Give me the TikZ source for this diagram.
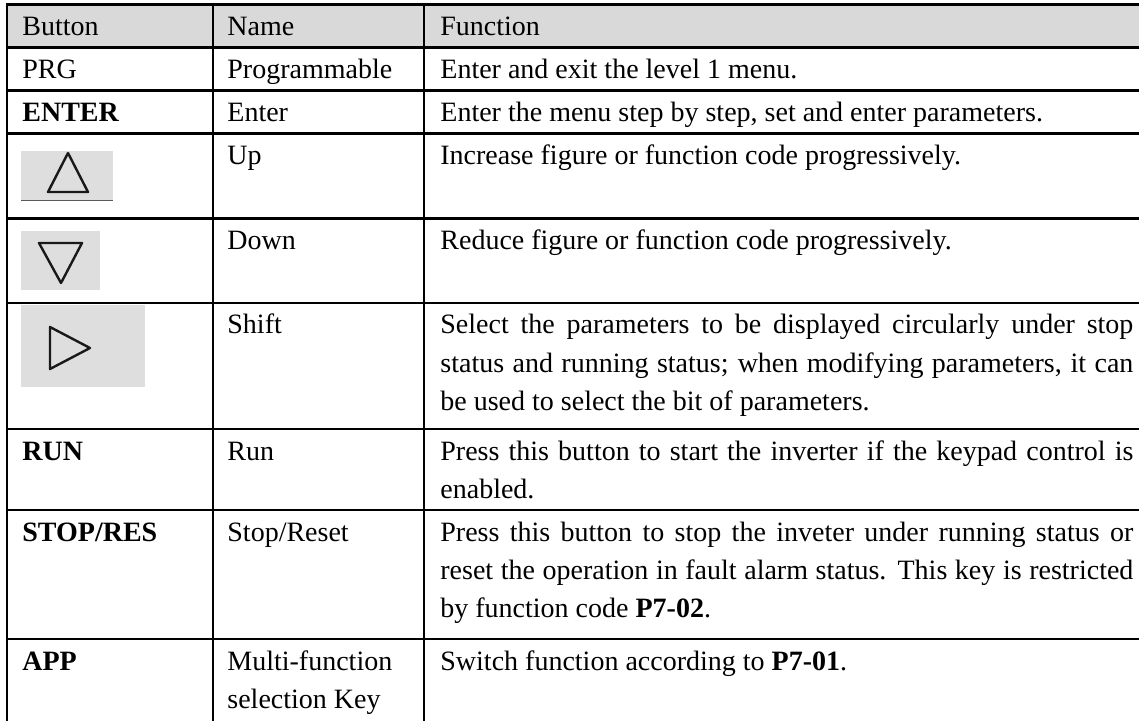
\documentclass[tikz,border=0pt]{standalone}
\usepackage{fontspec}
\setmainfont{Liberation Serif}
\definecolor{hdrgray}{RGB}{217,217,217}
\definecolor{btngray}{RGB}{222,222,222}
\definecolor{ulgray}{RGB}{90,90,90}
\definecolor{tricol}{RGB}{25,25,25}
\newcommand{\jline}[1]{\makebox[346.5pt][s]{#1}}
\begin{document}
\begin{tikzpicture}[x=0.5pt,y=-0.5pt,
  txt/.style={anchor=base west, inner sep=0pt, font=\fontsize{14}{19}\selectfont},
  rule/.style={line width=1.3pt, black},
  tri/.style={draw=tricol, line width=1.2pt, line join=round}]
\useasboundingbox (0,0) rectangle (1139,721);
\clip (0,0) rectangle (1139,721);
% header fill
\fill[hdrgray] (7,4.5) rectangle (1150,47.5);
% button icons
\fill[btngray] (21,151) rectangle (113,200);
\draw[ulgray, line width=0.8pt] (21,200.5) -- (113,200.5);
\draw[tri] (68,153) -- (88,192) -- (48,192) -- cycle;
\fill[btngray] (21,231) rectangle (100,290);
\draw[tri] (39,243) -- (82,243) -- (61,283) -- cycle;
\fill[btngray] (21,305) rectangle (145,387);
\draw[tri] (50,327) -- (90,348) -- (50,369) -- cycle;
% grid
\foreach \yy in {4.5,47.5,90.5,133.5,218.5,303,429,510,639}
  \draw[rule] (6.4,\yy) -- (1150,\yy);
\foreach \xx in {7,213,424}
  \draw[rule] (\xx,4) -- (\xx,730);
% header
\node[txt] (h1) at (22,35.5) {Button};
\node[txt] (h2) at (227,35.5) {Name};
\node[txt] (h3) at (440,35.5) {Function};
% PRG
\node[txt] (b1) at (22,78.5) {PRG};
\node[txt] (n1) at (227,78.5) {Programmable};
\node[txt] (f1) at (440,78.5) {Enter and exit the level 1 menu.};
% ENTER
\node[txt] (b2) at (22,121.5) {\textbf{ENTER}};
\node[txt] (n2) at (227,121.5) {Enter};
\node[txt] (f2) at (440,121.5) {Enter the menu step by step, set and enter parameters.};
% Up
\node[txt] (n3) at (227,164.5) {Up};
\node[txt] (f3) at (440,164.5) {Increase figure or function code progressively.};
% Down
\node[txt] (n4) at (227,249.5) {Down};
\node[txt] (f4) at (440,249.5) {Reduce figure or function code progressively.};
% Shift
\node[txt] (n5) at (227,334) {Shift};
\node[txt] (f5a) at (440,334) {\jline{Select the parameters to be displayed circularly under stop}};
\node[txt] (f5b) at (440,372) {\jline{status and running status; when modifying parameters, it can}};
\node[txt] (f5c) at (440,410) {be used to select the bit of parameters.};
% RUN
\node[txt] (b6) at (22,460) {\textbf{RUN}};
\node[txt] (n6) at (227,460) {Run};
\node[txt] (f6a) at (440,460) {\jline{Press this button to start the inverter if the keypad control is}};
\node[txt] (f6b) at (440,498) {enabled.};
% STOP
\node[txt] (b7) at (22,541) {\textbf{STOP/RES}};
\node[txt] (n7) at (227,541) {Stop/Reset};
\node[txt] (f7a) at (440,541) {\jline{Press this button to stop the inveter under running status or}};
\node[txt] (f7b) at (440,579) {\jline{reset the operation in fault alarm status. This key is restricted}};
\node[txt] (f7c) at (440,617) {by function code \textbf{P7-02}.};
% APP
\node[txt] (b8) at (22,670) {\textbf{APP}};
\node[txt] (n8a) at (227,670) {Multi-function};
\node[txt] (n8b) at (227,708) {selection Key};
\node[txt] (f8) at (440,670) {Switch function according to \textbf{P7-01}.};
\end{tikzpicture}
\end{document}
